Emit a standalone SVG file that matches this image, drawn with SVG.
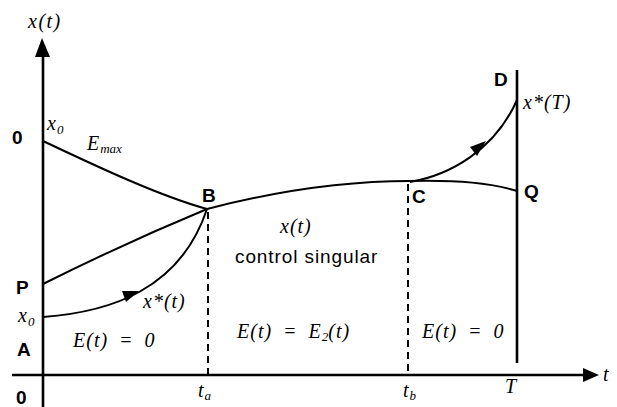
<svg xmlns="http://www.w3.org/2000/svg" width="617" height="407" viewBox="0 0 617 407">
<style>
.ax{stroke:#000;stroke-width:2.6;fill:none}
.cv{stroke:#000;stroke-width:2;fill:none}
.ds{stroke:#000;stroke-width:2;fill:none;stroke-dasharray:7 5}
.lb{font-family:"Liberation Sans",Arial,sans-serif;font-weight:bold;font-size:19px;fill:#000}
.it{font-family:"Liberation Serif","Times New Roman",serif;font-style:italic;font-size:20px;letter-spacing:1px;fill:#000}
.sb{font-size:13px;letter-spacing:0}
.cs{font-family:"Liberation Sans",Arial,sans-serif;font-size:19px;letter-spacing:0.9px;fill:#000}
</style>
<rect width="617" height="407" fill="#fff"/>
<g id="connectors">
<line class="ax" x1="43" y1="52" x2="43" y2="407"/>
<polygon points="42,38 35,57 50,57" fill="#000"/>
<line class="ax" x1="12" y1="375" x2="588" y2="375"/>
<polygon points="599,375 583,368 583,382" fill="#000"/>
<line class="ax" x1="517" y1="70" x2="517" y2="363"/>
<line class="ds" x1="208" y1="212" x2="208" y2="375"/>
<line class="ds" x1="408" y1="184" x2="408" y2="375"/>
<path class="cv" d="M43,141 C100,168 160,196 207,209"/>
<path class="cv" d="M43,284 Q125,243 207,209"/>
<path class="cv" d="M43,317 C110,312 180,290 207,209"/>
<path class="cv" d="M207,209 C280,190 350,181 410,181"/>
<path class="cv" d="M410,181 C460,180 490,183 517,191"/>
<path class="cv" d="M410,182 C450,175 495,150 517,100"/>
<polygon points="139,291 122,291 126,302" fill="#000"/>
<polygon points="486,141 470,147 477,156" fill="#000"/>
</g>
<g id="axis-labels">
<text class="it" x="28" y="28" style="letter-spacing:1.5px">x(t)</text>
<text class="it" x="603" y="381">t</text>
<text class="lb" x="12" y="144">0</text>
<text class="lb" x="16" y="404">0</text>
</g>
<g id="node-O"><text class="it" x="47" y="130">x<tspan class="sb" dy="4">0</tspan></text></g>
<g id="node-Emax"><text class="it" x="87" y="150" font-size="21">E<tspan class="sb" dy="3">max</tspan></text></g>
<g id="node-B"><text class="lb" x="202" y="202">B</text></g>
<g id="node-singular">
<text class="it" x="280" y="233">x(t)</text>
<text class="cs" x="235" y="263">control singular</text>
</g>
<g id="node-C"><text class="lb" x="412" y="203">C</text></g>
<g id="node-D"><text class="lb" x="494" y="86">D</text></g>
<g id="node-xT"><text class="it" x="523" y="109">x*(T)</text></g>
<g id="node-Q"><text class="lb" x="524" y="198">Q</text></g>
<g id="node-P"><text class="lb" x="16" y="294">P</text></g>
<g id="node-xstar"><text class="it" x="143" y="308">x*(t)</text></g>
<g id="node-x0"><text class="it" x="18" y="322">x<tspan class="sb" dy="4">0</tspan></text></g>
<g id="node-A"><text class="lb" x="17" y="356">A</text></g>
<g id="regions">
<text class="it" x="73" y="347" word-spacing="5">E(t) = 0</text>
<text class="it" x="237" y="338" word-spacing="5">E(t) = E<tspan class="sb" dy="3">2</tspan><tspan dy="-3" style="letter-spacing:1px">(t)</tspan></text>
<text class="it" x="422" y="338" word-spacing="5">E(t) = 0</text>
</g>
<g id="ticks">
<text class="it" x="198" y="397">t<tspan class="sb" dy="3">a</tspan></text>
<text class="it" x="403" y="397">t<tspan class="sb" dy="3">b</tspan></text>
<text class="it" x="505" y="393">T</text>
</g>
</svg>
